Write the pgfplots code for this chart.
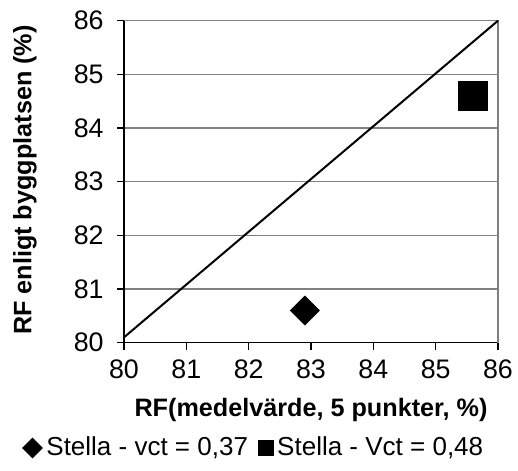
\documentclass[border=0pt]{standalone}
\usepackage{pgfplots}
\pgfplotsset{compat=1.18}
\usepackage{fontspec}
\setmainfont{Liberation Sans}
\begin{document}
\fontsize{12}{14}\selectfont
\begin{tikzpicture}
\path[use as bounding box] (-62pt,-63.65pt) rectangle (197pt,171.35pt);
\begin{axis}[
  at={(0,0)}, anchor=south west,
  scale only axis, width=187pt, height=161pt,
  xmin=80, xmax=86, ymin=80, ymax=86,
  xtick={80,...,86}, ytick={80,...,86},
  /pgf/number format/assume math mode=true,
  ticklabel style={font=\fontsize{13.4}{15}\selectfont},
  yticklabel style={xshift=-2.5pt},
  xticklabel style={yshift=-1pt},
  axis x line*=bottom, axis y line*=left,
  axis line style={black, line width=0.7pt, -},
  tick style={black, line width=0.6pt},
  tick align=outside, major tick length=3.5pt,
  ymajorgrids, grid style={gray, line width=0.6pt},
  xlabel={\bfseries RF(medelvärde, 5 punkter, \%)},
  ylabel={\bfseries RF enligt byggplatsen (\%)},
  xlabel style={at={(axis description cs:0.5,-0.209)}, anchor=center, font=\fontsize{12.6}{14}\selectfont},
  ylabel style={at={(axis description cs:-0.265,0.505)}, anchor=center, rotate=0, font=\fontsize{12.6}{14}\selectfont},
  legend style={at={(axis description cs:0.35,-0.327)}, anchor=center, draw=none, fill=none,
    legend columns=2, font=\fontsize{13}{15}\selectfont,
    /tikz/every even column/.append style={column sep=3pt}},
  legend cell align=left,
  clip=false,
]
\draw[gray, line width=0.7pt] (rel axis cs:0,1) -- (rel axis cs:1,1) -- (rel axis cs:1,0);
\addplot[black, line width=1pt, no marks, forget plot] coordinates {(80,80.1) (86,86)};
\addplot[only marks, mark=square*, mark size=5.1pt, mark options={rotate=45, fill=black, draw=black},
  legend image post style={mark size=3.5pt}] coordinates {(82.9,80.6)};
\addlegendentry{Stella - vct = 0,37}
\addplot[only marks, mark=square*, mark size=7.25pt, mark options={fill=black, draw=black},
  legend image post style={mark size=3.8pt}] coordinates {(85.6,84.6)};
\addlegendentry{Stella - Vct = 0,48}
\end{axis}
\end{tikzpicture}
\end{document}
